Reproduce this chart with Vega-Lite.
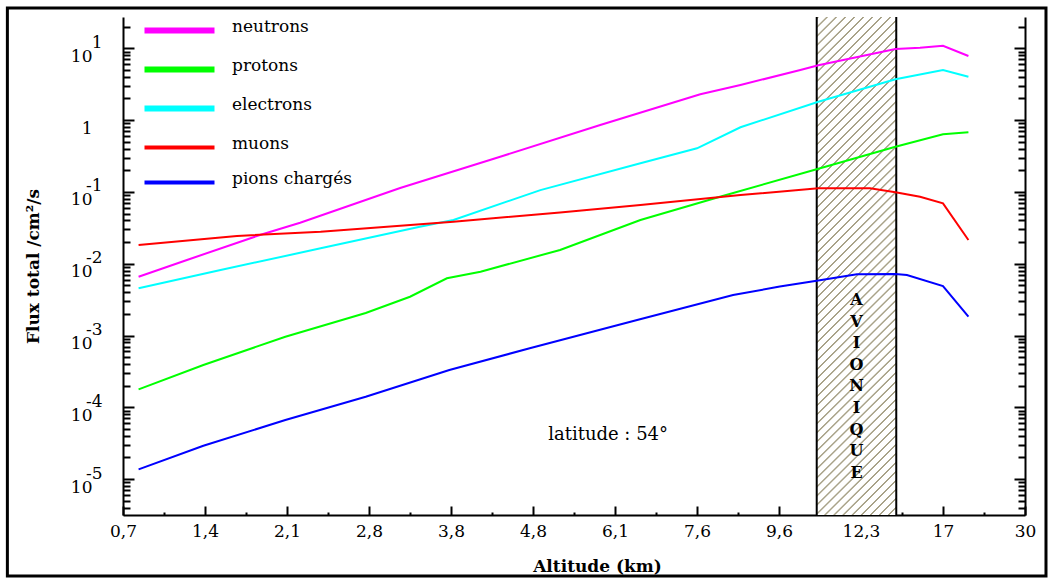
{
  "$schema": "https://vega.github.io/schema/vega-lite/v6.json",
  "width": 902,
  "height": 498,
  "autosize": {"type": "none"},
  "padding": {"left": 123, "top": 17, "right": 28, "bottom": 67},
  "background": "white",
  "config": {"view": {"stroke": null}},
  "datasets": {
    "band": [{"x0": 8.46, "x1": 9.43}],
    "flux": [
      {"particle": "neutrons", "pos": 0.19, "flux": 0.00659},
      {"particle": "neutrons", "pos": 0.78, "flux": 0.01127},
      {"particle": "neutrons", "pos": 1.67, "flux": 0.0251},
      {"particle": "neutrons", "pos": 2.16, "flux": 0.03724},
      {"particle": "neutrons", "pos": 3.38, "flux": 0.1132},
      {"particle": "neutrons", "pos": 4.6, "flux": 0.309},
      {"particle": "neutrons", "pos": 5.82, "flux": 0.855},
      {"particle": "neutrons", "pos": 7.04, "flux": 2.286},
      {"particle": "neutrons", "pos": 7.53, "flux": 3.083},
      {"particle": "neutrons", "pos": 8.26, "flux": 4.989},
      {"particle": "neutrons", "pos": 8.48, "flux": 5.794},
      {"particle": "neutrons", "pos": 9.42, "flux": 9.772},
      {"particle": "neutrons", "pos": 9.72, "flux": 10.19},
      {"particle": "neutrons", "pos": 10.0, "flux": 10.86},
      {"particle": "neutrons", "pos": 10.31, "flux": 7.816},
      {"particle": "protons", "pos": 0.19, "flux": 0.000178},
      {"particle": "protons", "pos": 0.98, "flux": 0.000388},
      {"particle": "protons", "pos": 1.98, "flux": 0.000962},
      {"particle": "protons", "pos": 2.96, "flux": 0.002056},
      {"particle": "protons", "pos": 3.5, "flux": 0.003467},
      {"particle": "protons", "pos": 3.95, "flux": 0.006266},
      {"particle": "protons", "pos": 4.36, "flux": 0.007745},
      {"particle": "protons", "pos": 5.33, "flux": 0.01552},
      {"particle": "protons", "pos": 6.31, "flux": 0.04064},
      {"particle": "protons", "pos": 7.28, "flux": 0.0857},
      {"particle": "protons", "pos": 8.48, "flux": 0.2099},
      {"particle": "protons", "pos": 9.42, "flux": 0.4266},
      {"particle": "protons", "pos": 10.0, "flux": 0.6339},
      {"particle": "protons", "pos": 10.31, "flux": 0.6761},
      {"particle": "electrons", "pos": 0.19, "flux": 0.00454},
      {"particle": "electrons", "pos": 1.19, "flux": 0.00817},
      {"particle": "electrons", "pos": 2.41, "flux": 0.01637},
      {"particle": "electrons", "pos": 3.62, "flux": 0.0327},
      {"particle": "electrons", "pos": 4.03, "flux": 0.0406},
      {"particle": "electrons", "pos": 5.09, "flux": 0.106},
      {"particle": "electrons", "pos": 6.31, "flux": 0.25},
      {"particle": "electrons", "pos": 7.0, "flux": 0.405},
      {"particle": "electrons", "pos": 7.53, "flux": 0.794},
      {"particle": "electrons", "pos": 8.48, "flux": 1.803},
      {"particle": "electrons", "pos": 9.42, "flux": 3.698},
      {"particle": "electrons", "pos": 10.0, "flux": 4.989},
      {"particle": "electrons", "pos": 10.31, "flux": 4.018},
      {"particle": "muons", "pos": 0.19, "flux": 0.0182},
      {"particle": "muons", "pos": 1.39, "flux": 0.02432},
      {"particle": "muons", "pos": 2.41, "flux": 0.02793},
      {"particle": "muons", "pos": 4.03, "flux": 0.03846},
      {"particle": "muons", "pos": 5.33, "flux": 0.05164},
      {"particle": "muons", "pos": 6.31, "flux": 0.06577},
      {"particle": "muons", "pos": 7.53, "flux": 0.09057},
      {"particle": "muons", "pos": 8.48, "flux": 0.1122},
      {"particle": "muons", "pos": 9.11, "flux": 0.1122},
      {"particle": "muons", "pos": 9.42, "flux": 0.0986},
      {"particle": "muons", "pos": 9.72, "flux": 0.0857},
      {"particle": "muons", "pos": 10.0, "flux": 0.0693},
      {"particle": "muons", "pos": 10.31, "flux": 0.0214},
      {"particle": "pions chargés", "pos": 0.19, "flux": 1.368e-5},
      {"particle": "pions chargés", "pos": 0.98, "flux": 2.917e-5},
      {"particle": "pions chargés", "pos": 1.98, "flux": 6.653e-5},
      {"particle": "pions chargés", "pos": 2.96, "flux": 1.406e-4},
      {"particle": "pions chargés", "pos": 3.98, "flux": 3.311e-4},
      {"particle": "pions chargés", "pos": 4.96, "flux": 6.637e-4},
      {"particle": "pions chargés", "pos": 6.27, "flux": 1.644e-3},
      {"particle": "pions chargés", "pos": 7.44, "flux": 3.664e-3},
      {"particle": "pions chargés", "pos": 8.01, "flux": 4.808e-3},
      {"particle": "pions chargés", "pos": 8.46, "flux": 5.794e-3},
      {"particle": "pions chargés", "pos": 8.95, "flux": 7.112e-3},
      {"particle": "pions chargés", "pos": 9.42, "flux": 7.194e-3},
      {"particle": "pions chargés", "pos": 9.56, "flux": 6.966e-3},
      {"particle": "pions chargés", "pos": 10.0, "flux": 4.887e-3},
      {"particle": "pions chargés", "pos": 10.31, "flux": 1.828e-3}
    ]
  },
  "resolve": {"axis": {"x": "independent", "y": "independent"}},
  "layer": [
    {
      "data": {"name": "band"},
      "mark": {
        "type": "rect",
        "strokeWidth": 0,
        "fill": {
          "gradient": "linear", "x1": 0, "y1": 0, "x2": 0.1793, "y2": 1.1302,
          "stops": [
            {"offset": 0, "color": "#fff"}, {"offset": 0.001, "color": "#a9a389"}, {"offset": 0.0035, "color": "#a9a389"}, {"offset": 0.0045, "color": "#fff"},
            {"offset": 0.015625, "color": "#fff"}, {"offset": 0.016625, "color": "#a9a389"}, {"offset": 0.019125, "color": "#a9a389"}, {"offset": 0.020125, "color": "#fff"},
            {"offset": 0.03125, "color": "#fff"}, {"offset": 0.03225, "color": "#a9a389"}, {"offset": 0.03475, "color": "#a9a389"}, {"offset": 0.03575, "color": "#fff"},
            {"offset": 0.046875, "color": "#fff"}, {"offset": 0.047875, "color": "#a9a389"}, {"offset": 0.050375, "color": "#a9a389"}, {"offset": 0.051375, "color": "#fff"},
            {"offset": 0.0625, "color": "#fff"}, {"offset": 0.0635, "color": "#a9a389"}, {"offset": 0.066, "color": "#a9a389"}, {"offset": 0.067, "color": "#fff"},
            {"offset": 0.078125, "color": "#fff"}, {"offset": 0.079125, "color": "#a9a389"}, {"offset": 0.081625, "color": "#a9a389"}, {"offset": 0.082625, "color": "#fff"},
            {"offset": 0.09375, "color": "#fff"}, {"offset": 0.09475, "color": "#a9a389"}, {"offset": 0.09725, "color": "#a9a389"}, {"offset": 0.09825, "color": "#fff"},
            {"offset": 0.109375, "color": "#fff"}, {"offset": 0.110375, "color": "#a9a389"}, {"offset": 0.112875, "color": "#a9a389"}, {"offset": 0.113875, "color": "#fff"},
            {"offset": 0.125, "color": "#fff"}, {"offset": 0.126, "color": "#a9a389"}, {"offset": 0.1285, "color": "#a9a389"}, {"offset": 0.1295, "color": "#fff"},
            {"offset": 0.140625, "color": "#fff"}, {"offset": 0.141625, "color": "#a9a389"}, {"offset": 0.144125, "color": "#a9a389"}, {"offset": 0.145125, "color": "#fff"},
            {"offset": 0.15625, "color": "#fff"}, {"offset": 0.15725, "color": "#a9a389"}, {"offset": 0.15975, "color": "#a9a389"}, {"offset": 0.16075, "color": "#fff"},
            {"offset": 0.171875, "color": "#fff"}, {"offset": 0.172875, "color": "#a9a389"}, {"offset": 0.175375, "color": "#a9a389"}, {"offset": 0.176375, "color": "#fff"},
            {"offset": 0.1875, "color": "#fff"}, {"offset": 0.1885, "color": "#a9a389"}, {"offset": 0.191, "color": "#a9a389"}, {"offset": 0.192, "color": "#fff"},
            {"offset": 0.203125, "color": "#fff"}, {"offset": 0.204125, "color": "#a9a389"}, {"offset": 0.206625, "color": "#a9a389"}, {"offset": 0.207625, "color": "#fff"},
            {"offset": 0.21875, "color": "#fff"}, {"offset": 0.21975, "color": "#a9a389"}, {"offset": 0.22225, "color": "#a9a389"}, {"offset": 0.22325, "color": "#fff"},
            {"offset": 0.234375, "color": "#fff"}, {"offset": 0.235375, "color": "#a9a389"}, {"offset": 0.237875, "color": "#a9a389"}, {"offset": 0.238875, "color": "#fff"},
            {"offset": 0.25, "color": "#fff"}, {"offset": 0.251, "color": "#a9a389"}, {"offset": 0.2535, "color": "#a9a389"}, {"offset": 0.2545, "color": "#fff"},
            {"offset": 0.265625, "color": "#fff"}, {"offset": 0.266625, "color": "#a9a389"}, {"offset": 0.269125, "color": "#a9a389"}, {"offset": 0.270125, "color": "#fff"},
            {"offset": 0.28125, "color": "#fff"}, {"offset": 0.28225, "color": "#a9a389"}, {"offset": 0.28475, "color": "#a9a389"}, {"offset": 0.28575, "color": "#fff"},
            {"offset": 0.296875, "color": "#fff"}, {"offset": 0.297875, "color": "#a9a389"}, {"offset": 0.300375, "color": "#a9a389"}, {"offset": 0.301375, "color": "#fff"},
            {"offset": 0.3125, "color": "#fff"}, {"offset": 0.3135, "color": "#a9a389"}, {"offset": 0.316, "color": "#a9a389"}, {"offset": 0.317, "color": "#fff"},
            {"offset": 0.328125, "color": "#fff"}, {"offset": 0.329125, "color": "#a9a389"}, {"offset": 0.331625, "color": "#a9a389"}, {"offset": 0.332625, "color": "#fff"},
            {"offset": 0.34375, "color": "#fff"}, {"offset": 0.34475, "color": "#a9a389"}, {"offset": 0.34725, "color": "#a9a389"}, {"offset": 0.34825, "color": "#fff"},
            {"offset": 0.359375, "color": "#fff"}, {"offset": 0.360375, "color": "#a9a389"}, {"offset": 0.362875, "color": "#a9a389"}, {"offset": 0.363875, "color": "#fff"},
            {"offset": 0.375, "color": "#fff"}, {"offset": 0.376, "color": "#a9a389"}, {"offset": 0.3785, "color": "#a9a389"}, {"offset": 0.3795, "color": "#fff"},
            {"offset": 0.390625, "color": "#fff"}, {"offset": 0.391625, "color": "#a9a389"}, {"offset": 0.394125, "color": "#a9a389"}, {"offset": 0.395125, "color": "#fff"},
            {"offset": 0.40625, "color": "#fff"}, {"offset": 0.40725, "color": "#a9a389"}, {"offset": 0.40975, "color": "#a9a389"}, {"offset": 0.41075, "color": "#fff"},
            {"offset": 0.421875, "color": "#fff"}, {"offset": 0.422875, "color": "#a9a389"}, {"offset": 0.425375, "color": "#a9a389"}, {"offset": 0.426375, "color": "#fff"},
            {"offset": 0.4375, "color": "#fff"}, {"offset": 0.4385, "color": "#a9a389"}, {"offset": 0.441, "color": "#a9a389"}, {"offset": 0.442, "color": "#fff"},
            {"offset": 0.453125, "color": "#fff"}, {"offset": 0.454125, "color": "#a9a389"}, {"offset": 0.456625, "color": "#a9a389"}, {"offset": 0.457625, "color": "#fff"},
            {"offset": 0.46875, "color": "#fff"}, {"offset": 0.46975, "color": "#a9a389"}, {"offset": 0.47225, "color": "#a9a389"}, {"offset": 0.47325, "color": "#fff"},
            {"offset": 0.484375, "color": "#fff"}, {"offset": 0.485375, "color": "#a9a389"}, {"offset": 0.487875, "color": "#a9a389"}, {"offset": 0.488875, "color": "#fff"},
            {"offset": 0.5, "color": "#fff"}, {"offset": 0.501, "color": "#a9a389"}, {"offset": 0.5035, "color": "#a9a389"}, {"offset": 0.5045, "color": "#fff"},
            {"offset": 0.515625, "color": "#fff"}, {"offset": 0.516625, "color": "#a9a389"}, {"offset": 0.519125, "color": "#a9a389"}, {"offset": 0.520125, "color": "#fff"},
            {"offset": 0.53125, "color": "#fff"}, {"offset": 0.53225, "color": "#a9a389"}, {"offset": 0.53475, "color": "#a9a389"}, {"offset": 0.53575, "color": "#fff"},
            {"offset": 0.546875, "color": "#fff"}, {"offset": 0.547875, "color": "#a9a389"}, {"offset": 0.550375, "color": "#a9a389"}, {"offset": 0.551375, "color": "#fff"},
            {"offset": 0.5625, "color": "#fff"}, {"offset": 0.5635, "color": "#a9a389"}, {"offset": 0.566, "color": "#a9a389"}, {"offset": 0.567, "color": "#fff"},
            {"offset": 0.578125, "color": "#fff"}, {"offset": 0.579125, "color": "#a9a389"}, {"offset": 0.581625, "color": "#a9a389"}, {"offset": 0.582625, "color": "#fff"},
            {"offset": 0.59375, "color": "#fff"}, {"offset": 0.59475, "color": "#a9a389"}, {"offset": 0.59725, "color": "#a9a389"}, {"offset": 0.59825, "color": "#fff"},
            {"offset": 0.609375, "color": "#fff"}, {"offset": 0.610375, "color": "#a9a389"}, {"offset": 0.612875, "color": "#a9a389"}, {"offset": 0.613875, "color": "#fff"},
            {"offset": 0.625, "color": "#fff"}, {"offset": 0.626, "color": "#a9a389"}, {"offset": 0.6285, "color": "#a9a389"}, {"offset": 0.6295, "color": "#fff"},
            {"offset": 0.640625, "color": "#fff"}, {"offset": 0.641625, "color": "#a9a389"}, {"offset": 0.644125, "color": "#a9a389"}, {"offset": 0.645125, "color": "#fff"},
            {"offset": 0.65625, "color": "#fff"}, {"offset": 0.65725, "color": "#a9a389"}, {"offset": 0.65975, "color": "#a9a389"}, {"offset": 0.66075, "color": "#fff"},
            {"offset": 0.671875, "color": "#fff"}, {"offset": 0.672875, "color": "#a9a389"}, {"offset": 0.675375, "color": "#a9a389"}, {"offset": 0.676375, "color": "#fff"},
            {"offset": 0.6875, "color": "#fff"}, {"offset": 0.6885, "color": "#a9a389"}, {"offset": 0.691, "color": "#a9a389"}, {"offset": 0.692, "color": "#fff"},
            {"offset": 0.703125, "color": "#fff"}, {"offset": 0.704125, "color": "#a9a389"}, {"offset": 0.706625, "color": "#a9a389"}, {"offset": 0.707625, "color": "#fff"},
            {"offset": 0.71875, "color": "#fff"}, {"offset": 0.71975, "color": "#a9a389"}, {"offset": 0.72225, "color": "#a9a389"}, {"offset": 0.72325, "color": "#fff"},
            {"offset": 0.734375, "color": "#fff"}, {"offset": 0.735375, "color": "#a9a389"}, {"offset": 0.737875, "color": "#a9a389"}, {"offset": 0.738875, "color": "#fff"},
            {"offset": 0.75, "color": "#fff"}, {"offset": 0.751, "color": "#a9a389"}, {"offset": 0.7535, "color": "#a9a389"}, {"offset": 0.7545, "color": "#fff"},
            {"offset": 0.765625, "color": "#fff"}, {"offset": 0.766625, "color": "#a9a389"}, {"offset": 0.769125, "color": "#a9a389"}, {"offset": 0.770125, "color": "#fff"},
            {"offset": 0.78125, "color": "#fff"}, {"offset": 0.78225, "color": "#a9a389"}, {"offset": 0.78475, "color": "#a9a389"}, {"offset": 0.78575, "color": "#fff"},
            {"offset": 0.796875, "color": "#fff"}, {"offset": 0.797875, "color": "#a9a389"}, {"offset": 0.800375, "color": "#a9a389"}, {"offset": 0.801375, "color": "#fff"},
            {"offset": 0.8125, "color": "#fff"}, {"offset": 0.8135, "color": "#a9a389"}, {"offset": 0.816, "color": "#a9a389"}, {"offset": 0.817, "color": "#fff"},
            {"offset": 0.828125, "color": "#fff"}, {"offset": 0.829125, "color": "#a9a389"}, {"offset": 0.831625, "color": "#a9a389"}, {"offset": 0.832625, "color": "#fff"},
            {"offset": 0.84375, "color": "#fff"}, {"offset": 0.84475, "color": "#a9a389"}, {"offset": 0.84725, "color": "#a9a389"}, {"offset": 0.84825, "color": "#fff"},
            {"offset": 0.859375, "color": "#fff"}, {"offset": 0.860375, "color": "#a9a389"}, {"offset": 0.862875, "color": "#a9a389"}, {"offset": 0.863875, "color": "#fff"},
            {"offset": 0.875, "color": "#fff"}, {"offset": 0.876, "color": "#a9a389"}, {"offset": 0.8785, "color": "#a9a389"}, {"offset": 0.8795, "color": "#fff"},
            {"offset": 0.890625, "color": "#fff"}, {"offset": 0.891625, "color": "#a9a389"}, {"offset": 0.894125, "color": "#a9a389"}, {"offset": 0.895125, "color": "#fff"},
            {"offset": 0.90625, "color": "#fff"}, {"offset": 0.90725, "color": "#a9a389"}, {"offset": 0.90975, "color": "#a9a389"}, {"offset": 0.91075, "color": "#fff"},
            {"offset": 0.921875, "color": "#fff"}, {"offset": 0.922875, "color": "#a9a389"}, {"offset": 0.925375, "color": "#a9a389"}, {"offset": 0.926375, "color": "#fff"},
            {"offset": 0.9375, "color": "#fff"}, {"offset": 0.9385, "color": "#a9a389"}, {"offset": 0.941, "color": "#a9a389"}, {"offset": 0.942, "color": "#fff"},
            {"offset": 0.953125, "color": "#fff"}, {"offset": 0.954125, "color": "#a9a389"}, {"offset": 0.956625, "color": "#a9a389"}, {"offset": 0.957625, "color": "#fff"},
            {"offset": 0.96875, "color": "#fff"}, {"offset": 0.96975, "color": "#a9a389"}, {"offset": 0.97225, "color": "#a9a389"}, {"offset": 0.97325, "color": "#fff"},
            {"offset": 0.984375, "color": "#fff"}, {"offset": 0.985375, "color": "#a9a389"}, {"offset": 0.987875, "color": "#a9a389"}, {"offset": 0.988875, "color": "#fff"},
            {"offset": 1, "color": "#fff"}
          ]
        }
      },
      "encoding": {
        "x": {"field": "x0", "type": "quantitative", "axis": null, "scale": {"domain": [0, 11], "nice": false, "zero": false}},
        "x2": {"field": "x1"}
      }
    },
    {
      "data": {"name": "band"},
      "mark": {"type": "rule", "stroke": "black", "strokeWidth": 2},
      "encoding": {
        "x": {"field": "x0", "type": "quantitative", "axis": null, "scale": {"domain": [0, 11], "nice": false, "zero": false}}
      }
    },
    {
      "data": {"name": "band"},
      "mark": {"type": "rule", "stroke": "black", "strokeWidth": 2},
      "encoding": {
        "x": {"field": "x1", "type": "quantitative", "axis": null, "scale": {"domain": [0, 11], "nice": false, "zero": false}}
      }
    },
    {
      "data": {"name": "band"},
      "mark": {"type": "rect", "fill": "transparent", "stroke": "black", "strokeWidth": 3, "clip": false},
      "encoding": {
        "x": {"datum": -1.41, "type": "quantitative", "axis": null, "scale": {"domain": [0, 11], "nice": false, "zero": false}},
        "x2": {"datum": 11.256},
        "y": {"datum": 36.4, "type": "quantitative", "axis": null, "scale": {"type": "log", "domain": [3.162e-6, 27.29], "nice": false}},
        "y2": {"datum": 4.48e-7}
      }
    },
    {
      "data": {"name": "flux"},
      "mark": {"type": "line", "strokeWidth": 2},
      "encoding": {
        "x": {
          "field": "pos", "type": "quantitative",
          "scale": {"domain": [0, 11], "nice": false, "zero": false},
          "axis": {
            "orient": "bottom",
            "title": "Altitude (km)",
            "values": [0, 0.5, 1, 1.5, 2, 2.5, 3, 3.5, 4, 4.5, 5, 5.5, 6, 6.5, 7, 7.5, 8, 8.5, 9, 9.5, 10, 10.5, 11],
            "labelExpr": "datum.value % 1 == 0 ? ['0,7','1,4','2,1','2,8','3,8','4,8','6,1','7,6','9,6','12,3','17','30'][datum.value] : ''",
            "labelFont": "DejaVu Serif", "labelFontSize": 17, "labelColor": "black",
            "labelPadding": 17, "labelOverlap": false, "labelFlush": false, "labelBound": false,
            "tickColor": "black", "tickWidth": 2,
            "tickSize": {"condition": {"test": "datum.value % 1 == 0", "value": -9}, "value": -3},
            "domainColor": "black", "domainWidth": 2, "grid": false,
            "titleFont": "DejaVu Serif", "titleFontWeight": "bold", "titleFontSize": 17, "titleColor": "black",
            "titleX": 474, "titleY": 56, "titleBaseline": "alphabetic"
          }
        },
        "y": {
          "field": "flux", "type": "quantitative",
          "scale": {"type": "log", "domain": [3.162e-6, 27.29], "nice": false},
          "axis": {
            "orient": "left",
            "title": "Flux total /cm²/s",
            "values": [4e-6, 5e-6, 6e-6, 7e-6, 8e-6, 9e-6, 1e-5, 2e-5, 3e-5, 4e-5, 5e-5, 6e-5, 7e-5, 8e-5, 9e-5, 1e-4, 2e-4, 3e-4, 4e-4, 5e-4, 6e-4, 7e-4, 8e-4, 9e-4, 0.001, 0.002, 0.003, 0.004, 0.005, 0.006, 0.007, 0.008, 0.009, 0.01, 0.02, 0.03, 0.04, 0.05, 0.06, 0.07, 0.08, 0.09, 0.1, 0.2, 0.3, 0.4, 0.5, 0.6, 0.7, 0.8, 0.9, 1, 2, 3, 4, 5, 6, 7, 8, 9, 10, 20],
            "labelExpr": "abs(log(datum.value)/LN10 - round(log(datum.value)/LN10)) > 0.01 ? '' : (round(log(datum.value)/LN10) == 0 ? '1' : '10')",
            "labelFont": "DejaVu Serif", "labelFontSize": 17, "labelColor": "black",
            "labelAlign": "right", "labelBaseline": "alphabetic", "labelOffset": 13,
            "labelPadding": 42, "labelOverlap": false, "labelFlush": false, "labelBound": false,
            "tickColor": "black", "tickWidth": 2,
            "tickSize": {"condition": {"test": "abs(log(datum.value)/LN10 - round(log(datum.value)/LN10)) < 0.01", "value": -11}, "value": -7},
            "domainColor": "black", "domainWidth": 2, "grid": false,
            "titleFont": "DejaVu Serif", "titleFontWeight": "bold", "titleFontSize": 17, "titleColor": "black",
            "titleX": -85, "titleY": 249, "titleBaseline": "alphabetic"
          }
        },
        "color": {
          "field": "particle", "type": "nominal",
          "scale": {
            "domain": ["neutrons", "protons", "electrons", "muons", "pions chargés"],
            "range": ["#ff00ff", "#00ff00", "#00ffff", "#ff0000", "#0000ff"]
          },
          "legend": {
            "orient": "none", "legendX": 48, "legendY": 5, "title": null,
            "symbolType": "M-5,0H5", "symbolSize": 196, "symbolStrokeWidth": 5,
            "labelFont": "DejaVu Serif", "labelFontSize": 17, "labelColor": "black",
            "labelOffset": 44, "rowPadding": 13, "padding": 0, "labelLimit": 300,
            "encode": {
              "symbols": {"update": {"strokeWidth": {"signal": "datum.value == 'muons' || datum.value == 'pions chargés' ? 4 : 6"}}},
              "labels": {"update": {"dy": {"value": -4}}}
            }
          }
        }
      }
    },
    {
      "data": {"name": "band"},
      "mark": {"type": "text", "text": ["A", "V", "I", "O", "N", "I", "Q", "U", "E"], "font": "DejaVu Serif", "fontWeight": "bold", "fontSize": 16, "lineHeight": 21.6, "align": "center", "baseline": "middle", "color": "black"},
      "encoding": {
        "x": {"datum": 8.945, "type": "quantitative", "axis": null, "scale": {"domain": [0, 11], "nice": false, "zero": false}},
        "y": {
          "datum": 0.00312, "type": "quantitative",
          "scale": {"type": "log", "domain": [3.162e-6, 27.29], "nice": false},
          "axis": {
            "orient": "left", "title": null, "ticks": false, "domain": false, "grid": false,
            "values": [1e-5, 1e-4, 0.001, 0.01, 0.1, 10],
            "labelExpr": "'' + round(log(datum.value)/LN10)",
            "labelFont": "DejaVu Serif", "labelFontSize": 17, "labelColor": "black",
            "labelAlign": "right", "labelBaseline": "alphabetic", "labelOffset": -1,
            "labelPadding": 21, "labelOverlap": false, "labelFlush": false, "labelBound": false
          }
        }
      }
    },
    {
      "data": {"name": "band"},
      "mark": {"type": "text", "text": "latitude : 54°", "font": "DejaVu Serif", "fontSize": 18, "align": "left", "baseline": "alphabetic", "color": "black"},
      "encoding": {
        "x": {"datum": 5.185, "type": "quantitative", "axis": null, "scale": {"domain": [0, 11], "nice": false, "zero": false}},
        "y": {
          "datum": 3.51e-5, "type": "quantitative",
          "scale": {"type": "log", "domain": [3.162e-6, 27.29], "nice": false},
          "axis": {
            "orient": "right", "title": null, "labels": false,
            "values": [4e-6, 5e-6, 6e-6, 7e-6, 8e-6, 9e-6, 1e-5, 2e-5, 3e-5, 4e-5, 5e-5, 6e-5, 7e-5, 8e-5, 9e-5, 1e-4, 2e-4, 3e-4, 4e-4, 5e-4, 6e-4, 7e-4, 8e-4, 9e-4, 0.001, 0.002, 0.003, 0.004, 0.005, 0.006, 0.007, 0.008, 0.009, 0.01, 0.02, 0.03, 0.04, 0.05, 0.06, 0.07, 0.08, 0.09, 0.1, 0.2, 0.3, 0.4, 0.5, 0.6, 0.7, 0.8, 0.9, 1, 2, 3, 4, 5, 6, 7, 8, 9, 10, 20],
            "tickColor": "black", "tickWidth": 2,
            "tickSize": {"condition": {"test": "abs(log(datum.value)/LN10 - round(log(datum.value)/LN10)) < 0.01", "value": -11}, "value": -7},
            "domainColor": "black", "domainWidth": 2, "grid": false
          }
        }
      }
    }
  ]
}
